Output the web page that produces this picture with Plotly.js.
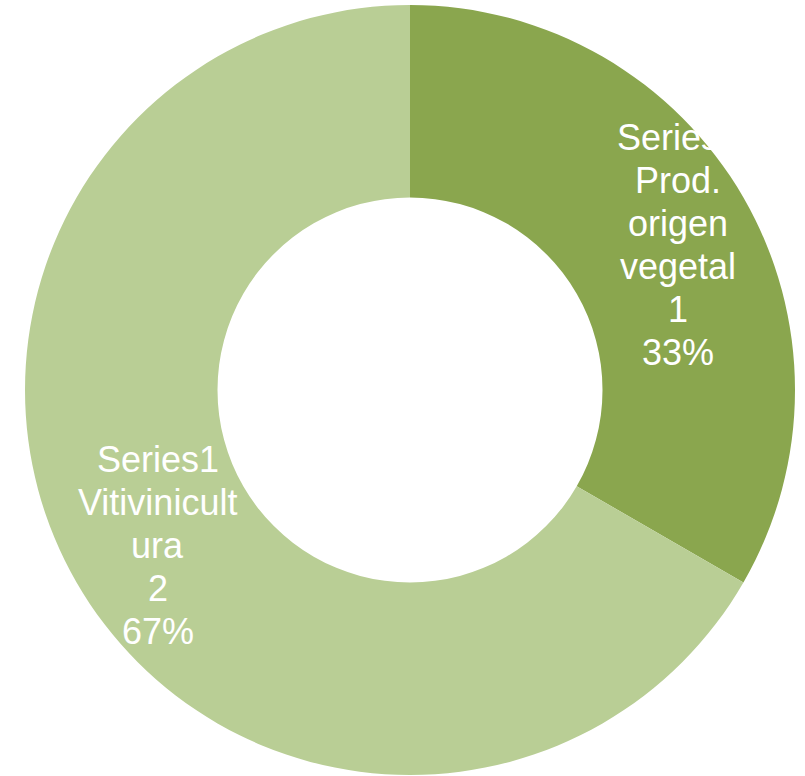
<!DOCTYPE html>
<html>
<head>
<meta charset="utf-8">
<script src="https://cdn.plot.ly/plotly-3.0.1.min.js"></script>
<style>html,body{margin:0;padding:0;background:#fff;}</style>
</head>
<body>
<div id="chart" style="width:805px;height:776px;"></div>
<script>
const seriesName = "Series1";
const categories = ["Prod. origen vegetal", "Vitivinicultura"];
const categoryLines = [["Prod.", "origen", "vegetal"], ["Vitivinicult", "ura"]];
const values = [1, 2];
const colors = ["#8AA64E", "#B9CE95"];

const W = 805, H = 776;
const cx = 410, cy = 386, R = 385;
const hole = 0.5;
const domain = {
  x: [(cx - R) / W, (cx + R) / W],
  y: [(cy - R) / H, (cy + R) / H]
};

const FONT = 36, LINE = 43, OFFX = 8, OFFY = -5;
const total = values.reduce((a, b) => a + b, 0);
const annotations = [];
let cum = 0;
values.forEach((v, i) => {
  const mid = (cum + v / 2) / total * 2 * Math.PI;
  cum += v;
  const r = 0.78 * R;
  const pct = Math.round(v / total * 100) + "%";
  const lines = [seriesName].concat(categoryLines[i], [String(v), pct]);
  const n = lines.length;
  lines.forEach((t, k) => {
    annotations.push({
      xref: "paper", yref: "paper",
      x: (cx + r * Math.sin(mid)) / W,
      y: (cy + r * Math.cos(mid)) / H,
      xshift: OFFX,
      yshift: OFFY - (k - (n - 1) / 2) * LINE,
      xanchor: "center", yanchor: "middle", align: "center",
      showarrow: false,
      text: t,
      font: {family: "Liberation Sans, Arial, sans-serif", size: FONT, color: "#FFFFFF"}
    });
  });
});

const data = [{
  type: "pie",
  labels: categories,
  values: values,
  hole: hole,
  sort: false,
  direction: "clockwise",
  rotation: 0,
  textinfo: "none",
  hoverinfo: "none",
  marker: {colors: colors, line: {width: 0}},
  domain: domain,
  showlegend: false
}];

const layout = {
  width: W, height: H,
  margin: {l: 0, r: 0, t: 0, b: 0},
  paper_bgcolor: "#FFFFFF",
  plot_bgcolor: "#FFFFFF",
  showlegend: false,
  annotations: annotations
};

Plotly.newPlot("chart", data, layout, {displayModeBar: false, staticPlot: true});
</script>
</body>
</html>
